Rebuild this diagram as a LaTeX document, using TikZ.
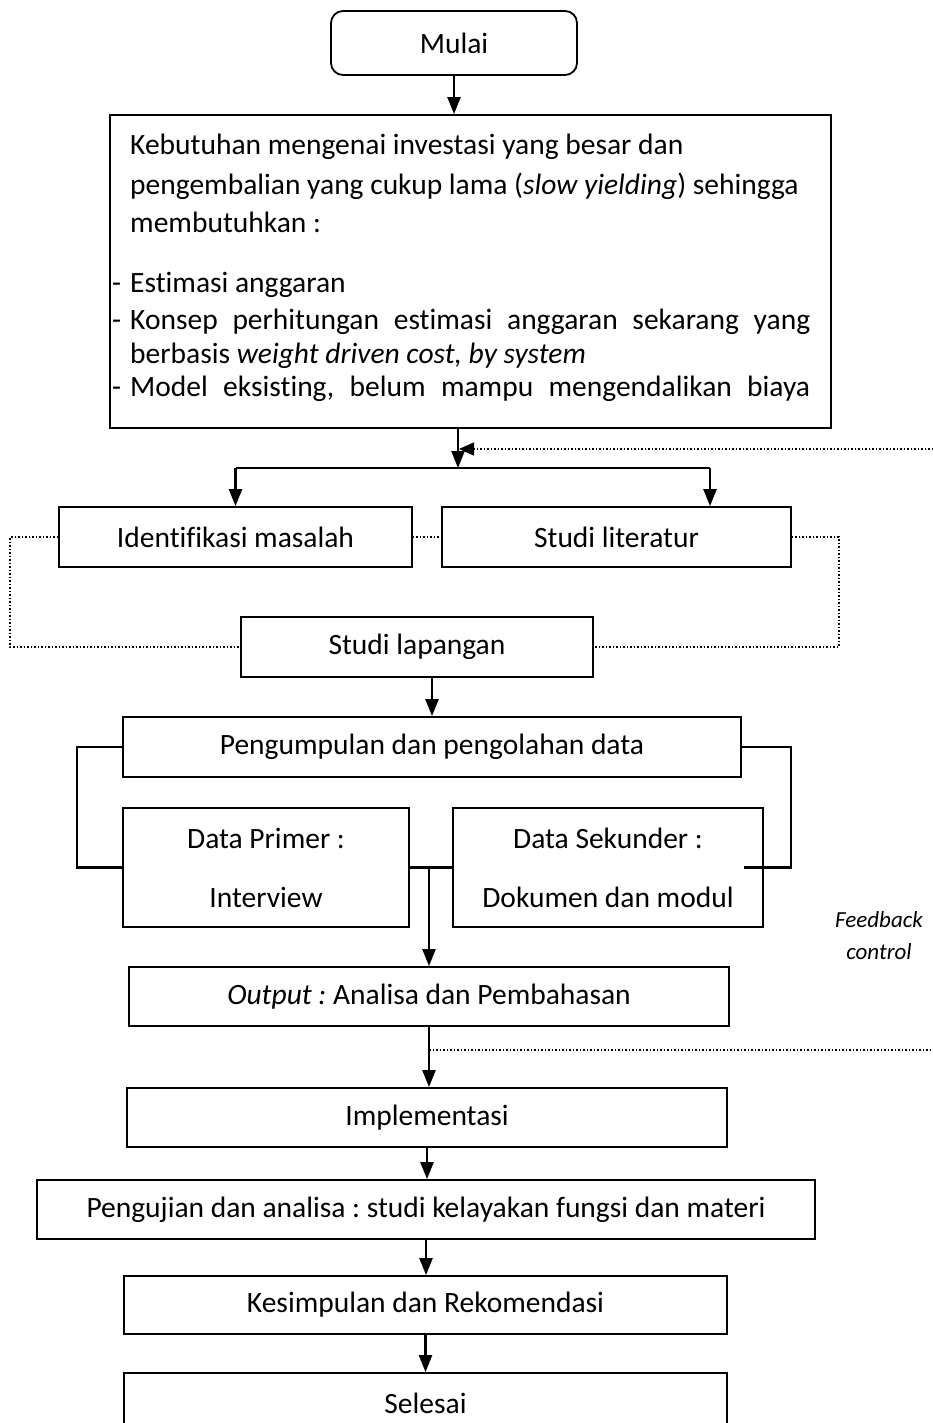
\documentclass[tikz,border=0pt]{standalone}
\usepackage{fontspec}
\setmainfont[Ligatures=NoCommon]{Carlito}
\usetikzlibrary{arrows.meta}
\frenchspacing
\begin{document}
\begin{tikzpicture}[x=1pt,y=-1pt,
  box/.style={draw, line width=1.8pt, inner sep=0pt, align=center, font=\fontsize{29.5}{35}\selectfont\frenchspacing},
  arr/.style={-{Triangle[length=17pt,width=13pt]}, line width=2.3pt},
  ln/.style={line width=2.2pt},
  dotln/.style={dotted, line width=1.5pt},
  txt/.style={font=\fontsize{29.5}{35}\selectfont\frenchspacing, inner sep=0pt, anchor=base west}]
\useasboundingbox (0,0) rectangle (933,1423);
\clip (0,0) rectangle (933,1423);
\coordinate (edgeR) at (933,0);

% boxes
\node[box, rounded corners=12pt, minimum width=246pt, minimum height=64pt] (mulai) at (454,43) {Mulai};
\node[box, minimum width=721pt, minimum height=313pt] (need) at (470.5,271.5) {};
\node[box, minimum width=353pt, minimum height=60pt] (ident) at (235.5,537) {Identifikasi masalah};
\node[box, minimum width=349pt, minimum height=60pt] (stud) at (616.5,537) {Studi literatur};
\node[box, minimum width=352pt, minimum height=60pt] (lap) at (417,647) {Studi lapangan};
\node[box, minimum width=618pt, minimum height=60pt] (peng) at (432,747) {Pengumpulan dan pengolahan data};
\node[box, minimum width=286pt, minimum height=119pt] (prim) at (266,867.5) {Data Primer :\\[24pt]Interview};
\node[box, minimum width=310pt, minimum height=119pt] (sek) at (608,867.5) {Data Sekunder :\\[24pt]Dokumen dan modul};
\node[box, minimum width=600pt, minimum height=59pt] (out) at (429,996.5) {\textit{Output :} Analisa dan Pembahasan};
\node[box, minimum width=600pt, minimum height=59pt] (impl) at (427,1117.5) {Implementasi};
\node[box, minimum width=778pt, minimum height=59pt] (uji) at (426,1209.5) {Pengujian dan analisa : studi kelayakan fungsi dan materi};
\node[box, minimum width=603pt, minimum height=58pt] (kes) at (425.5,1305) {Kesimpulan dan Rekomendasi};
\node[box, minimum width=603pt, minimum height=60pt] (sel) at (425.5,1403) {Selesai};

% text of the top box
\node[txt] (t1) at (130,155) {Kebutuhan mengenai investasi yang besar dan};
\node[txt] (t2) at (130,195) {pengembalian yang cukup lama (\textit{slow yielding}) sehingga};
\node[txt] (t3) at (130,233) {membutuhkan :};
\node[txt] (d1) at (112,292) {-};
\node[txt] (t4) at (130,292) {Estimasi anggaran};
\node[txt] (d2) at (112,329) {-};
\node[txt] (t5) at (130,329) {\makebox[680pt][s]{Konsep perhitungan estimasi anggaran sekarang yang}};
\node[txt] (t6) at (130,363) {berbasis \textit{weight driven cost, by system}};
\node[txt] (d3) at (112,396) {-};
\node[txt] (t7) at (130,396) {\makebox[680pt][s]{Model eksisting, belum mampu mengendalikan biaya}};

\node[font=\fontsize{23}{32}\selectfont\itshape, align=center, inner sep=0pt] (fbtext) at (879,936) {Feedback\\control};

% connectors
\draw[arr] (mulai.south) -- (mulai.south |- need.north);
\coordinate (split) at (458,468);
\coordinate (sr) at (710,468);
\draw[arr] (need.south -| split) -- (split);
\draw[ln] (ident.north |- split) -- (sr);
\draw[arr] (ident.north |- split) -- (ident.north);
\draw[arr] (sr) -- (sr |- stud.north);
\coordinate (fbtop) at (933,449);
\draw[dotln, -{Triangle[length=15pt,width=13pt]}] (fbtop) -- (459,449);

\draw[dotln] (ident.east) -- (stud.west);
\draw[dotln] (ident.west) -- ++(-48,0) |- (lap.west);
\draw[dotln] (stud.east) -- ++(47,0) |- (lap.east);

\draw[arr] (lap.south -| peng.north) -- (peng.north);
\draw[ln] (peng.west) -- ++(-45,0) |- (prim.west);
\coordinate (sekin) at ([xshift=-20pt]sek.east);
\draw[ln] (peng.east) -- ++(49,0) |- (sekin);
\draw[ln] (prim.east) -- (sek.west);
\draw[arr] (prim.east -| out.north) -- (out.north);

\draw[arr] (out.south) -- (out.south |- impl.north);
\path (out.south) ++(0,23) coordinate (fbj);
\draw[dotln] (fbj) -- (fbj -| edgeR);
\draw[arr] (impl.south) -- (impl.south |- uji.north);
\draw[arr] (uji.south) -- (uji.south |- kes.north);
\draw[arr] (kes.south) -- (kes.south |- sel.north);
\end{tikzpicture}
\end{document}
